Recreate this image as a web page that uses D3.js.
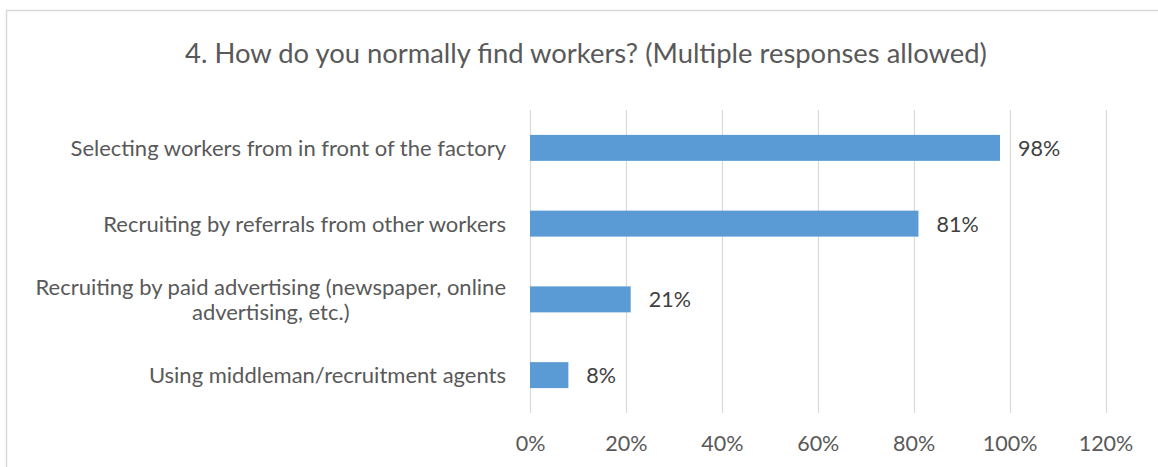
<!DOCTYPE html>
<html>
<head>
<meta charset="utf-8">
<script src="https://cdn.jsdelivr.net/npm/d3@7"></script>
<style>
  html, body { margin: 0; padding: 0; background: #ffffff; }
  svg { display: block; }
  text { font-family: Lato, "Open Sans", sans-serif; }
</style>
</head>
<body>
<svg id="chart" width="1158" height="467"></svg>
<script>
// Survey question and answers
const title = "4. How do you normally find workers? (Multiple responses allowed)";
const categories = [
  "Selecting workers from in front of the factory",
  "Recruiting by referrals from other workers",
  "Recruiting by paid advertising (newspaper, online advertising, etc.)",
  "Using middleman/recruitment agents"
];
// Wrapped label lines for each category
const categoryLines = [
  ["Selecting workers from in front of the factory"],
  ["Recruiting by referrals from other workers"],
  ["Recruiting by paid advertising (newspaper, online", "advertising, etc.)"],
  ["Using middleman/recruitment agents"]
];
// Share of respondents (%)
const values = [98, 81, 21, 8];
const tickValues = [0, 20, 40, 60, 80, 100, 120];

const svg = d3.select("#chart");

// Chart frame
svg.append("rect")
  .attr("x", 6.5).attr("y", 10.5)
  .attr("width", 1170).attr("height", 480)
  .attr("fill", "#ffffff")
  .attr("stroke", "#d9d9d9")
  .attr("stroke-width", 1.5);

svg.append("text")
  .attr("x", 586).attr("y", 63)
  .attr("text-anchor", "middle")
  .attr("fill", "#595959")
  .style("font-size", "27.4px")
  .text(title);

const x = d3.scaleLinear().domain([0, 120]).range([530, 1105.5]);
const y = d3.scaleBand().domain(categories).range([110, 413])
  .paddingInner(0.657).paddingOuter(0.3285);

// Vertical gridlines
svg.append("g").selectAll("line").data(tickValues).join("line")
  .attr("x1", d => Math.round(x(d)) + 0.5).attr("x2", d => Math.round(x(d)) + 0.5)
  .attr("y1", 110).attr("y2", 413)
  .attr("stroke", "#d9d9d9").attr("stroke-width", 1.2);

// Bottom axis tick labels
const xAxis = d3.axisBottom(x).tickValues(tickValues).tickFormat(d => d + "%").tickSize(0).tickPadding(0);
const gx = svg.append("g").attr("transform", "translate(0,436)").call(xAxis);
gx.select(".domain").remove();
gx.selectAll("text")
  .attr("dy", "0.71em")
  .attr("fill", "#595959")
  .style("font-size", "21.5px")
  .style("font-family", "Lato, 'Open Sans', sans-serif");

// Bars
svg.append("g").selectAll("rect").data(values).join("rect")
  .attr("x", x(0))
  .attr("y", (d, i) => y(categories[i]))
  .attr("width", d => x(d) - x(0))
  .attr("height", y.bandwidth())
  .attr("fill", "#5b9bd5");

// Value labels
svg.append("g").selectAll("text").data(values).join("text")
  .attr("x", d => x(d) + 18)
  .attr("y", (d, i) => y(categories[i]) + y.bandwidth() / 2 + 8)
  .attr("fill", "#404040")
  .style("font-size", "21.5px")
  .text(d => d + "%");

// Category labels: block right-aligned, lines centered within the block
const labelRight = 506;
const lineGap = 25;
categories.forEach((c, i) => {
  const lines = categoryLines[i];
  const cy = y(c) + y.bandwidth() / 2;
  const g = svg.append("g");
  const texts = lines.map((t, k) => g.append("text")
    .attr("fill", "#595959")
    .style("font-size", "22px")
    .attr("text-anchor", "middle")
    .attr("y", cy + 8 + (k - (lines.length - 1) / 2) * lineGap)
    .text(t));
  const w = d3.max(texts, t => t.node().getComputedTextLength());
  texts.forEach(t => t.attr("x", labelRight - w / 2));
});
</script>
</body>
</html>
